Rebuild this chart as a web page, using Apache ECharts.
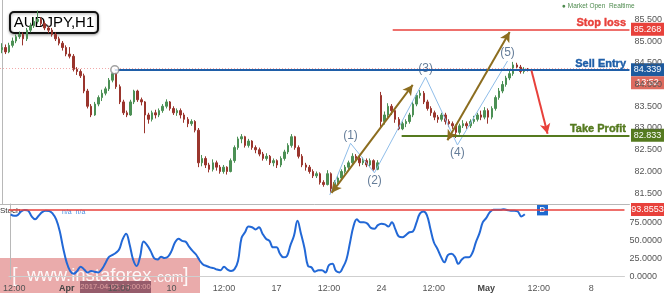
<!DOCTYPE html>
<html><head><meta charset="utf-8">
<script src="https://cdn.jsdelivr.net/npm/echarts@6/dist/echarts.min.js"></script>
<style>html,body{margin:0;padding:0;background:#fff}#c{width:665px;height:293px}</style>
</head><body><div id="c"></div>
<script>
// ---- data (4-hour bars, AUDJPY) ----
const opens = [
84.80,84.85,84.75,84.90,85.00,85.10,85.15,85.05,85.25,85.35,
85.45,85.50,85.40,85.30,85.25,85.15,85.05,84.95,84.85,84.70,
84.65,84.35,84.30,84.20,83.85,83.50,83.30,83.55,83.70,83.80,
83.90,84.10,84.25,83.95,83.60,83.35,83.30,83.60,83.85,83.65,
83.60,83.30,83.20,83.35,83.30,83.40,83.50,83.60,83.45,83.35,
83.40,83.30,83.20,83.10,83.15,82.95,82.20,82.30,82.15,82.05,
82.20,82.10,82.00,82.10,82.00,82.25,82.55,82.75,82.80,82.60,
82.70,82.55,82.50,82.40,82.30,82.35,82.20,82.25,82.15,82.30,
82.45,82.60,82.80,82.55,82.35,82.15,82.10,82.00,81.90,81.95,
81.75,81.70,81.95,81.60,81.75,81.85,82.00,82.10,82.20,82.35,
82.30,82.20,82.25,82.15,82.25,82.05,83.75,83.15,83.30,83.50,
83.40,83.20,82.98,83.10,83.15,83.30,83.55,83.75,83.80,83.60,
83.45,83.35,83.25,83.20,83.30,83.15,83.10,83.05,82.90,83.05,
83.10,83.05,83.15,83.20,83.30,83.25,83.40,83.25,83.45,83.70,
83.85,84.00,84.15,84.25,84.45,84.40,84.30,84.35];
const closes = [
84.85,84.75,84.90,85.00,85.10,85.15,85.05,85.25,85.35,85.45,
85.50,85.40,85.30,85.25,85.15,85.05,84.95,84.85,84.70,84.65,
84.35,84.30,84.20,83.85,83.50,83.30,83.55,83.70,83.80,83.90,
84.10,84.25,83.95,83.60,83.35,83.30,83.60,83.85,83.65,83.60,
83.30,83.20,83.35,83.30,83.40,83.50,83.60,83.45,83.35,83.40,
83.30,83.20,83.10,83.15,82.95,82.20,82.30,82.15,82.05,82.20,
82.10,82.00,82.10,82.00,82.25,82.55,82.75,82.80,82.60,82.70,
82.55,82.50,82.40,82.30,82.35,82.20,82.25,82.15,82.30,82.45,
82.60,82.80,82.55,82.35,82.15,82.10,82.00,81.90,81.95,81.75,
81.70,81.95,81.60,81.75,81.85,82.00,82.10,82.20,82.35,82.30,
82.20,82.25,82.15,82.25,82.05,82.20,83.15,83.30,83.50,83.40,
83.20,82.98,83.10,83.15,83.30,83.55,83.75,83.80,83.60,83.45,
83.35,83.25,83.20,83.30,83.15,83.10,83.05,82.90,83.05,83.10,
83.05,83.15,83.20,83.30,83.25,83.40,83.25,83.45,83.70,83.85,
84.00,84.15,84.25,84.45,84.40,84.30,84.35,84.34];
const lows = [
84.72,84.70,84.72,84.85,84.95,85.05,84.90,85.00,85.20,85.30,
85.40,85.35,85.25,85.18,85.10,85.00,84.90,84.78,84.65,84.60,
84.30,84.22,84.15,83.80,83.45,83.25,83.28,83.50,83.62,83.75,
83.85,84.05,83.90,83.55,83.30,83.25,83.28,83.55,83.60,83.52,
82.88,83.10,83.15,83.22,83.25,83.35,83.45,83.40,83.30,83.28,
83.22,83.12,83.02,83.05,82.90,82.10,82.12,82.08,81.98,82.00,
82.02,81.95,81.95,81.93,81.98,82.20,82.50,82.65,82.55,82.55,
82.50,82.42,82.35,82.25,82.25,82.15,82.12,82.08,82.10,82.25,
82.40,82.55,82.50,82.30,82.10,82.02,81.95,81.85,81.85,81.70,
81.65,81.68,81.50,81.55,81.70,81.80,81.95,82.05,82.15,82.22,
82.12,82.15,82.10,82.10,82.02,82.03,83.02,83.08,83.25,83.30,
83.12,82.95,82.95,83.02,83.10,83.25,83.50,83.68,83.55,83.40,
83.28,83.18,83.12,83.15,83.08,83.02,82.98,82.77,82.85,83.00,
82.98,83.00,83.10,83.15,83.18,83.20,83.10,83.20,83.40,83.65,
83.80,83.95,84.10,84.20,84.32,84.25,84.25,84.30];
const highs = [
84.95,84.92,84.96,85.08,85.15,85.22,85.20,85.30,85.42,85.55,
85.70,85.55,85.45,85.35,85.30,85.20,85.10,85.00,84.90,84.86,
84.70,84.40,84.35,84.25,83.90,83.55,83.60,83.75,83.88,83.95,
84.15,84.30,84.28,84.00,83.65,83.40,83.65,83.88,83.88,83.70,
83.62,83.35,83.40,83.42,83.45,83.55,83.66,83.62,83.50,83.45,
83.45,83.35,83.25,83.20,83.18,83.00,82.38,82.35,82.20,82.28,
82.25,82.15,82.15,82.12,82.30,82.60,82.80,82.86,82.82,82.75,
82.72,82.60,82.55,82.45,82.42,82.38,82.30,82.28,82.35,82.50,
82.65,82.86,82.82,82.60,82.40,82.20,82.15,82.05,82.00,81.98,
81.80,82.03,81.98,81.80,81.90,82.05,82.15,82.25,82.42,82.40,
82.35,82.32,82.30,82.30,82.28,82.26,83.83,83.38,83.57,83.55,
83.45,83.25,83.15,83.20,83.35,83.60,83.80,83.87,83.85,83.65,
83.50,83.40,83.30,83.35,83.35,83.20,83.15,83.08,83.10,83.18,
83.15,83.20,83.28,83.35,83.40,83.48,83.45,83.50,83.75,83.92,
84.08,84.20,84.32,84.52,84.50,84.45,84.40,84.38];
const stoch = [
87,85,86,91,93,92,84,80,85,90,
92,91.7,88,80,64,40,20,8,4,8,
14,10,6,8,7,6,10,18,27,30,
33,38,52,60,45,24,15,28,49,44,
36,26,24,28,26,28,36,48,53,50,
49,42,36,31,23,17,15,13,12,10,
9,14,10,8,10.6,22,54,62,70,69,
66,69,60,53,50,41,41,32,27,29,
44,57,78,60,40,15,13,7,9,9,
6,16,18,8,6,13,24,47,70,80,
76,76,74,68,67,72,74,73,70,76,
66,56,55,58,62,63,75,88,91,86,
67,48,39,28,20,30,32,28,18,24,
27,27,33,48,60,76,82,90,93.5,93.5,
93.5,94,93,92,92,91,84,87];

const tickIndex = [1,16,31,46,61,76,91,106,121,136,151,166];
const tickText  = ['12:00','Apr','12:00','10','12:00','17','12:00','24','12:00','May','12:00','8'];
const boldTicks = ['Apr','May'];
const priceTicks = [81.5,82,82.5,83,83.5,84,84.5,85,85.5];
const stochTicks = [0,25,50,75];

const sellEntry = 84.339, stopLoss = 85.268, takeProfit = 82.833, lastPrice = 84.375, stochLevel = 93.8553;
const sellStart = 31.6, stopStart = 109.3, tpStart = 111.8;
const waveX = [91.7, 97.5, 104.2, 118.5, 127.4, 141.4];
const waveY = [81.46, 82.65, 81.97, 84.17, 82.61, 84.54];
const waveLabels = ['', '(1)', '(2)', '(3)', '(4)', '(5)'];
const goldArrow1 = [[92.2, 81.51], [114.9, 83.99]];
const goldArrow2 = [[124.6, 82.72], [142.0, 85.21]];
const redArrow = [[148.1, 84.32], [152.6, 82.87]];

// ---- category (time) axis: 4h bars skipping weekends ----
const NCAT = 176;
const categories = [];
let t = Date.UTC(2017, 2, 29, 8);
while (categories.length < NCAT) {
  const d = new Date(t); const wd = d.getUTCDay();
  if (wd !== 0 && wd !== 6) categories.push(d.toISOString().slice(0, 13) + ':00');
  t += 4 * 3600e3;
}
const candleData = opens.map((o, i) => [o, closes[i], lows[i], highs[i]]);
const XMIN = -0.5, XMAX = NCAT - 0.5;
const FONT = 'Liberation Sans, Arial, sans-serif';

const chart = echarts.init(document.getElementById('c'));
const hline = (x0, y, color, width, type) => [{coord: [x0, y], lineStyle: {color, width, type}}, {coord: [XMAX, y]}];
const arrow = (pts, color, s0, s1) => [
  {coord: pts[0], symbol: s0, symbolSize: [8, 10], lineStyle: {color, width: 2, type: 'solid'}, itemStyle: {color}},
  {coord: pts[1], symbol: s1, symbolSize: [8, 10]}
];

chart.setOption({
  animation: false,
  textStyle: {fontFamily: FONT},
  grid: [
    {left: 0, right: 35, top: 0, height: 204},
    {left: 0, right: 35, top: 204, height: 76}
  ],
  xAxis: [
    {type: 'category', gridIndex: 0, data: categories, boundaryGap: true,
     axisLine: {show: true, lineStyle: {color: '#b8b8b8'}}, axisTick: {show: false}, axisLabel: {show: false}, splitLine: {show: false}},
    {type: 'category', gridIndex: 1, data: categories, boundaryGap: true,
     axisLine: {show: true, lineStyle: {color: '#cfcfcf'}}, axisTick: {show: false}, splitLine: {show: false},
     axisLabel: {
       interval: (i) => tickIndex.includes(i), fontSize: 9, color: '#555', margin: 5,
       formatter: (v, i) => { const k = tickIndex.indexOf(i); if (k < 0) return ''; const s = tickText[k]; return boldTicks.includes(s) ? '{b|' + s + '}' : s; },
       rich: {b: {fontWeight: 'bold', fontSize: 9, color: '#444'}}
     }},
    {type: 'value', gridIndex: 0, min: XMIN, max: XMAX, show: false},
    {type: 'value', gridIndex: 1, min: XMIN, max: XMAX, show: false}
  ],
  yAxis: [
    {type: 'value', gridIndex: 0, position: 'right', min: 81.253, max: 85.943,
     axisLine: {show: true, lineStyle: {color: '#b8b8b8'}}, axisTick: {show: false}, splitLine: {show: false},
     axisLabel: {customValues: priceTicks, formatter: v => v.toFixed(3), fontSize: 9, color: '#555', margin: 5}},
    {type: 'value', gridIndex: 1, position: 'right', min: -3.2, max: 101.4,
     axisLine: {show: true, lineStyle: {color: '#b8b8b8'}}, axisTick: {show: false}, splitLine: {show: false},
     axisLabel: {customValues: stochTicks, formatter: v => v.toFixed(4), fontSize: 9, color: '#555', margin: 5}}
  ],
  series: [
    {type: 'candlestick', xAxisIndex: 0, yAxisIndex: 0, data: candleData, barWidth: 2,
     itemStyle: {color: '#4c9055', color0: '#9a352d', borderColor: '#4c9055', borderColor0: '#9a352d', borderWidth: 1}},
    {type: 'line', xAxisIndex: 2, yAxisIndex: 0, data: waveX.map((x, i) => [x, waveY[i]]),
     symbol: 'none', lineStyle: {color: '#8fbde9', width: 1}, z: 3,
     markLine: {silent: true, animation: false, symbol: 'none', label: {show: false},
       data: [
         hline(XMIN, lastPrice, '#f2a9a9', 1, [1, 2]),
         hline(stopStart, stopLoss, '#e8413b', 1.5, 'solid'),
         hline(sellStart, sellEntry, '#1f5ea8', 2, 'solid'),
         hline(tpStart, takeProfit, '#557a1f', 2, 'solid'),
         arrow(goldArrow1, '#8c6d1f', 'arrow', 'arrow'),
         arrow(goldArrow2, '#8c6d1f', 'arrow', 'arrow'),
         arrow(redArrow, '#e8413b', 'none', 'arrow')
       ]}},
    {type: 'scatter', xAxisIndex: 2, yAxisIndex: 0, symbolSize: 0, z: 4,
     data: waveX.map((x, i) => ({value: [x, waveY[i]], label: {show: !!waveLabels[i], formatter: waveLabels[i], position: (i % 2 === 1) ? 'top' : 'bottom', distance: 2}})),
     label: {color: '#3f5d80', fontSize: 12, fontFamily: FONT}},
    {type: 'scatter', xAxisIndex: 2, yAxisIndex: 0, z: 5, data: [[sellStart, sellEntry]], symbol: 'circle', symbolSize: 8,
     itemStyle: {color: '#fff', borderColor: '#8a8a8a', borderWidth: 1.5}},
    {type: 'line', xAxisIndex: 1, yAxisIndex: 1, data: stoch, symbol: 'none', smooth: 0.4,
     lineStyle: {color: '#2268d6', width: 2},
     markLine: {silent: true, symbol: 'none', label: {show: false}, data: [{yAxis: stochLevel, lineStyle: {color: '#e8413b', width: 1.5, type: 'solid'}}]}}
  ]
});

// ---- overlay texts/boxes positioned through the chart's scales ----
const py = v => chart.convertToPixel({yAxisIndex: 0}, v);
const sy = v => chart.convertToPixel({yAxisIndex: 1}, v);
const box = (y, text, bg) => ({type: 'group', children: [
  {type: 'rect', shape: {x: 631, y: y - 6.5, width: 33, height: 13}, style: {fill: bg}},
  {type: 'text', x: 647.5, y: y, style: {text, fill: '#fff', fontSize: 9, fontFamily: FONT, align: 'center', verticalAlign: 'middle'}}
]});
const tag = (y, text, color) => ({type: 'text', x: 626, y: y - 6, z: 10,
  style: {text, fill: color, fontSize: 11, fontWeight: 'bold', fontFamily: FONT, align: 'right', verticalAlign: 'middle',
          stroke: color, lineWidth: 0.4}});
chart.setOption({graphic: [
  tag(py(stopLoss), 'Stop loss', '#e8413b'),
  tag(py(sellEntry), 'Sell Entry', '#1f5ea8'),
  tag(py(takeProfit), 'Take Profit', '#557a1f'),
  box(py(stopLoss), stopLoss.toFixed(3), '#e8413b'),
  box(py(sellEntry), sellEntry.toFixed(3), '#1d5a9e'),
  box(py(sellEntry) + 13, '13:52', '#de6b5f'),
  box(py(takeProfit), takeProfit.toFixed(3), '#557a1f'),
  box(sy(stochLevel), stochLevel.toFixed(4), '#e8413b'),
  {type: 'rect', shape: {x: 537, y: sy(stochLevel) - 5, width: 11, height: 11}, style: {fill: '#1e6ad0'}},
  {type: 'text', x: 542.5, y: sy(stochLevel) + 0.5, style: {text: 'D', fill: '#fff', fontSize: 8, fontWeight: 'bold', fontFamily: FONT, align: 'center', verticalAlign: 'middle'}},
  {type: 'rect', shape: {x: 10, y: 12, width: 88, height: 21, r: 4}, style: {fill: '#fff', stroke: '#111', lineWidth: 2, shadowBlur: 3, shadowColor: 'rgba(0,0,0,0.35)', shadowOffsetY: 1}},
  {type: 'text', x: 54, y: 23, style: {text: 'AUDJPY,H1', fill: '#000', fontSize: 15, fontFamily: FONT, align: 'center', verticalAlign: 'middle'}},
  {type: 'text', x: 562, y: 6, style: {text: '● Market Open  Realtime', fill: '#4d8a4d', fontSize: 6.5, fontFamily: FONT, verticalAlign: 'middle'}},
  {type: 'text', x: 0, y: 211, style: {text: 'Stoch', fill: '#333', fontSize: 8, fontFamily: FONT, verticalAlign: 'middle'}},
  {type: 'text', x: 62, y: 212, style: {text: 'n/a  n/a', fill: '#4a90e2', fontSize: 7, fontFamily: FONT, verticalAlign: 'middle'}},
  {type: 'rect', shape: {x: 80, y: 281, width: 71, height: 12}, style: {fill: '#56607e'}},
  {type: 'text', x: 115.5, y: 287, style: {text: '2017-04-05 14:00:00', fill: '#e6e6e6', fontSize: 7.6, fontFamily: FONT, align: 'center', verticalAlign: 'middle'}},
  {type: 'rect', shape: {x: 0, y: 258, width: 200, height: 35}, style: {fill: 'rgba(214,88,88,0.5)'}},
  {type: 'text', x: 12, y: 276, style: {text: '[', fill: 'rgba(255,255,255,0.92)', fontSize: 20, fontFamily: FONT, verticalAlign: 'middle'}},
  {type: 'text', x: 27, y: 276, style: {text: 'www.instaforex', fill: 'rgba(255,255,255,0.92)', fontSize: 18.5, fontFamily: FONT, verticalAlign: 'middle'}},
  {type: 'text', x: 153, y: 278, style: {text: '.com', fill: 'rgba(255,255,255,0.92)', fontSize: 14, fontFamily: FONT, verticalAlign: 'middle'}},
  {type: 'text', x: 183, y: 276, style: {text: ']', fill: 'rgba(255,255,255,0.92)', fontSize: 20, fontFamily: FONT, verticalAlign: 'middle'}}
]});
</script></body></html>
